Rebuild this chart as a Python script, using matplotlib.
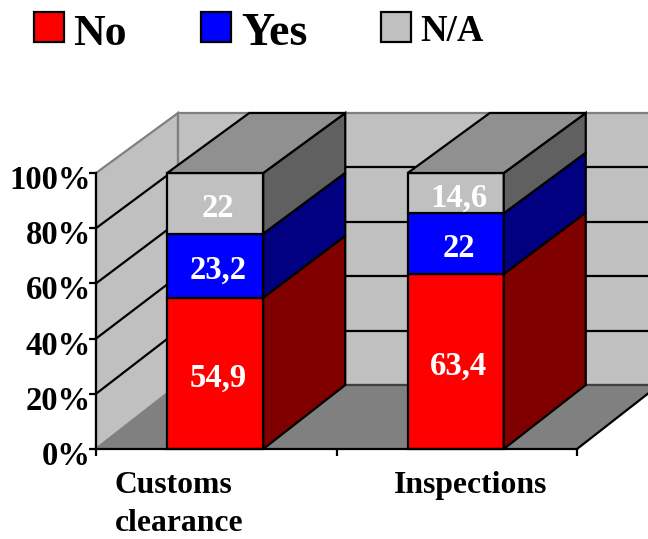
import matplotlib
matplotlib.use('Agg')
from matplotlib import pyplot as plt
from matplotlib.patches import Polygon, Rectangle
from matplotlib.transforms import ScaledTranslation

plt.rcParams['font.family'] = ['Liberation Serif', 'DejaVu Serif']
plt.rcParams['font.weight'] = 'bold'

categories = [['Customs', 'clearance'], ['Inspections']]
no_values = [54.9, 63.4]
yes_values = [23.2, 22]
na_values = [22, 14.6]
value_labels = [['54,9', '23,2', '22'], ['63,4', '22', '14,6']]
y_ticks = [0, 20, 40, 60, 80, 100]

W = 648
H = 539
LW = 1.6
fig = plt.figure(figsize=(W / 100, H / 100), dpi=100)

# front plane of the 3d box
left, right, bottom, top = 96, 577, 449, 173
ax = fig.add_axes([left / W, 1 - bottom / H, (right - left) / W, (bottom - top) / H])
ax.set_xlim(0, 2)
ax.set_ylim(0, 100)
ax.patch.set_visible(False)

px_x = 2 / (right - left)
px_y = 100 / (bottom - top)


def back(x, v):
    # point on the rear plane, depth shrinks a bit going up
    return (x + 82 * px_x, v + (64 - 4 * v / 100) * px_y)


def poly(pts, face, edge='black', lw=LW, z=2):
    ax.add_patch(Polygon(pts, closed=True, facecolor=face, edgecolor=edge, linewidth=lw,
                         clip_on=False, zorder=z, joinstyle='miter'))


def line(a, b, color='black', lw=LW, z=2):
    ax.plot([a[0], b[0]], [a[1], b[1]], color=color, lw=lw, clip_on=False, zorder=z,
            solid_capstyle='butt')


# walls and floor
poly([(0, 0), (0, 100), back(0, 100), back(0, 0)], '#c0c0c0', edge='#808080', z=1)
poly([back(0, 0), back(0, 100), back(2, 100), back(2, 0)], '#c0c0c0', edge='#808080', z=1)
poly([(0, 0), back(0, 0), back(2, 0), (2, 0)], '#808080', edge='none', z=1.2)
line((0, 0), back(0, 0), color='#808080', z=1.3)

for v in y_ticks[1:-1]:
    line((0, v), back(0, v), z=1.5)
    line(back(0, v), back(2, v), z=1.5)
line(back(0, 0), back(2, 0), color='#404040', z=1.5)
line((2, 0), back(2, 0), z=1.5)

# stacked bars
bar_w = 96 * px_x
series = [no_values, yes_values, na_values]
front_colors = ['#ff0000', '#0000ff', '#c0c0c0']
side_colors = ['#800000', '#000080', '#606060']
label_shift = [2, 2]

for i in range(len(categories)):
    x0 = i + 0.5 - bar_w / 2 - 1 * px_x
    x1 = x0 + bar_w
    total = no_values[i] + yes_values[i] + na_values[i]
    base = 0
    for s in range(3):
        h = series[s][i] / total * 100
        poly([(x0, base), (x1, base), (x1, base + h), (x0, base + h)], front_colors[s], z=3)
        poly([(x1, base), back(x1, base), back(x1, base + h), (x1, base + h)], side_colors[s], z=3)
        ax.text(i + 0.5 + label_shift[i] * px_x, base + h / 2 - 5 * px_y, value_labels[i][s],
                color='white', fontsize=23.5, ha='center', va='center', zorder=5)
        base += h
    poly([(x0, 100), (x1, 100), back(x1, 100), back(x0, 100)], '#909090', z=3)

# axes
for side in ['top', 'right']:
    ax.spines[side].set_visible(False)
for side in ['left', 'bottom']:
    ax.spines[side].set_linewidth(LW)
    ax.spines[side].set_zorder(4)
ax.set_yticks(y_ticks)
ax.set_yticklabels(['{}%'.format(v) for v in y_ticks], fontsize=23.5)
ax.set_xticks([0, 1, 2])
ax.set_xticklabels([])
ax.tick_params(axis='both', length=5, width=LW)
ax.tick_params(axis='y', pad=0)
label_nudge = ScaledTranslation(2 / 100, -4 / 100, fig.dpi_scale_trans)
for lab in ax.get_yticklabels():
    lab.set_transform(lab.get_transform() + label_nudge)

# category names, one text per line
cat_x = [115, 394]
line_y = [493, 531]
for i in range(len(categories)):
    for j in range(len(categories[i])):
        fig.text(cat_x[i] / W, 1 - line_y[j] / H, categories[i][j], fontsize=22.8,
                 ha='left', va='baseline')

# legend
legend_names = ['No', 'Yes', 'N/A']
legend_sizes = [31.5, 33, 26.5]
box_x = [34, 201, 381]
text_x = [73, 241, 420]
base_y = [45, 45, 41]
for k in range(3):
    fig.add_artist(Rectangle((box_x[k] / W, 1 - 42 / H), 30 / W, 30 / H, transform=fig.transFigure,
                             facecolor=front_colors[k], edgecolor='black', linewidth=LW))
    fig.text(text_x[k] / W, 1 - base_y[k] / H, legend_names[k], fontsize=legend_sizes[k],
             ha='left', va='baseline')

fig.savefig('out.png', dpi=100)
